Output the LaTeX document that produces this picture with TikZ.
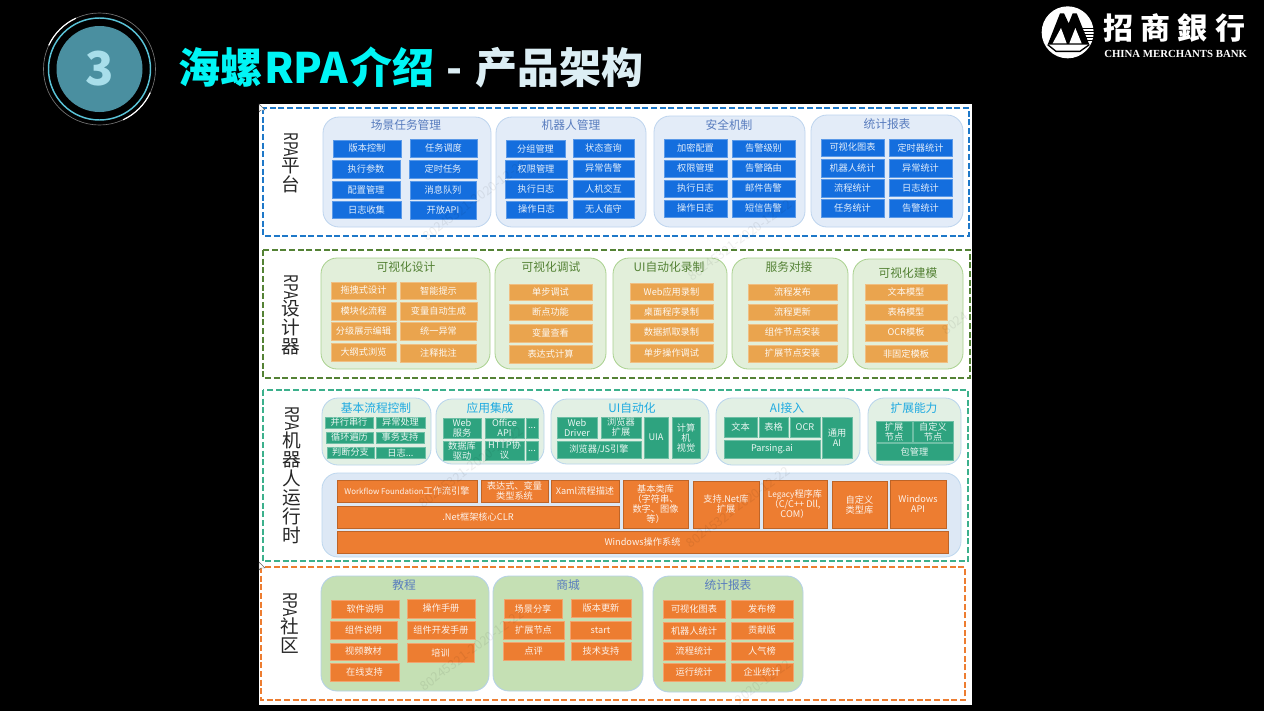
\documentclass[tikz,border=0pt]{standalone}
\usepackage{fontspec}
\usepackage{graphicx}
\setmainfont{Noto Sans CJK SC}
\newfontfamily\logotext{Liberation Serif}
\definecolor{titlecyan}{RGB}{0,245,245}
\definecolor{titlepale}{RGB}{220,238,244}
\definecolor{discteal}{RGB}{74,143,160}
\definecolor{ringcyan}{RGB}{90,195,215}
\definecolor{numpale}{RGB}{168,222,234}
\definecolor{frameblue}{RGB}{30,120,200}
\definecolor{framegreen}{RGB}{84,130,53}
\definecolor{frameteal}{RGB}{60,176,140}
\definecolor{frameorange}{RGB}{237,125,49}
\definecolor{headblue}{RGB}{88,124,190}
\definecolor{headsky}{RGB}{30,170,225}
\definecolor{cellblue}{RGB}{20,110,222}
\definecolor{cellamber}{RGB}{234,164,78}
\definecolor{cellteal}{RGB}{46,163,127}
\definecolor{cellorange}{RGB}{237,125,49}
\tikzset{
	wh/.style 2 args={minimum width=#1*0.75pt, minimum height=#2*0.75pt},
	framebox/.style={line width=1.2pt, dash pattern=on 4.5pt off 2pt},
	sidelabel/.style={align=center, inner sep=0pt, text=black!85,
		font=\fontsize{14}{14.2}\selectfont},
	panelbox/.style={rectangle, rounded corners=12pt, line width=0.6pt, inner sep=0pt},
	bluepanel/.style={panelbox, fill={rgb,255:red,227;green,236;blue,248}, draw={rgb,255:red,189;green,212;blue,238}},
	greenpanel/.style={panelbox, fill={rgb,255:red,226;green,239;blue,218}, draw={rgb,255:red,169;green,209;blue,142}},
	mintpanel/.style={panelbox, fill={rgb,255:red,226;green,240;blue,228}, draw={rgb,255:red,184;green,212;blue,236}},
	skypanel/.style={panelbox, fill={rgb,255:red,221;green,232;blue,245}, draw={rgb,255:red,189;green,215;blue,238}},
	leafpanel/.style={panelbox, fill={rgb,255:red,197;green,224;blue,180}, draw={rgb,255:red,180;green,208;blue,232}},
	paneltitle/.style={inner sep=0pt, font=\fontsize{8.8}{10}\selectfont},
	cellbox/.style={rectangle, inner sep=0pt, outer sep=0pt, align=center, line width=0.4pt,
		font=\fontsize{6.9}{7.5}\selectfont},
	bluecell/.style={cellbox, fill=cellblue, draw=cellblue!70!white, text=white!88!cellblue},
	ambercell/.style={cellbox, fill=cellamber, draw=cellamber!70!white, text=white!92!cellamber},
	tealcell/.style={cellbox, fill=cellteal, draw=cellteal!70!white, text=white!90!cellteal},
	orangecell/.style={cellbox, fill=cellorange, draw=cellorange!70!white, text=white!90!cellorange},
	corecell/.style={cellbox, fill=cellorange, draw=cellorange!80!black, text=white!90!cellorange},
	watermark/.style={rotate=37, text=black, opacity=0.07, inner sep=0pt,
		font=\fontsize{9.5}{10}\selectfont}
}
\newcommand{\rpatext}{\rotatebox[origin=c]{-90}{\scalebox{0.72}[1]{RPA}}}

\begin{document}
\begin{tikzpicture}[x=0.75pt, y=-0.75pt]
	\fill[black] (0,0) rectangle (1264,711);

	% badge
	\draw[black!55!white, line width=0.5pt] (99.5,69) circle (56);
	\draw[white, line width=0.9pt] (99.5,69) ++(65:56) arc[start angle=65, end angle=25, radius=56];
	\draw[white, line width=0.9pt] (99.5,69) ++(245:56) arc[start angle=245, end angle=205, radius=56];
	\draw[ringcyan, line width=1.1pt] (99.5,69) circle (51);
	\fill[discteal] (99.5,69) circle (43);
	\node[text=numpale, font=\fontsize{35}{36}\selectfont\bfseries] (badgenum) at (99.5,69) {3};
	\node[anchor=west, inner sep=0pt, text=titlepale, font=\fontsize{31.5}{34}\selectfont\bfseries] (pagetitle) at (178,67) {\textcolor{titlecyan}{海螺\hspace{1.5pt}RPA\hspace{1.5pt}介绍}\hspace{2.2pt} - \hspace{2.2pt}产品架构};

	% logo
	\begin{scope}[shift={(1036,4)}, x=0.25pt, y=-0.25pt]
		\fill[white] (95,85) circle (78);
		\fill[black] (35,122)--(72,28)--(84,28)--(98,58)--(110,28)--(122,28)--(160,122)--cycle;
		\fill[white] (50,118)--(75,72)--(92,118)--cycle;
		\fill[white] (100,118)--(118,72)--(137,118)--cycle;
		\foreach \sy in {72,81,90,99,108}
			\draw[black, line width=0.5pt] (138,\sy)--(176,\sy);
		\draw[black, line width=1pt] (35,122)--(60,142)--(132,142)--(160,122);
	\end{scope}
	\node[anchor=west, inner sep=0pt, text=white, font=\fontsize{22.5}{24}\selectfont\bfseries] (banknamecn) at (1103,28.5) {招\hspace{5.5pt}商\hspace{5.5pt}銀\hspace{5.5pt}行};
	\node[anchor=west, inner sep=0pt, text=white, font=\fontsize{8.1}{9}\logotext\bfseries] (banknameen) at (1104,54) {CHINA MERCHANTS BANK};

	\fill[white] (259,104) rectangle (972,705);

	% dashed frames
	\draw[framebox, frameblue] (263,108) rectangle (969,236);
	\draw[framebox, framegreen] (263,250) rectangle (970,378);
	\draw[framebox, frameteal] (263,390) rectangle (968,561);
	\draw[framebox, frameorange] (261,567) rectangle (965,700);

	\node[sidelabel] (sideplat) at (291,163) {\rpatext\\平\\台};
	\node[sidelabel] (sidedesign) at (291,315) {\rpatext\\设\\计\\器};
	\node[sidelabel] (siderobot) at (292,475) {\rpatext\\机\\器\\人\\运\\行\\时};
	\node[sidelabel] (sidecomm) at (290,623) {\rpatext\\社\\区};

	% RPA platform
	\node[bluepanel, wh={168}{110}] (pa) at (407,172) {};
	\node[bluepanel, wh={150}{110}] (pb) at (571,172) {};
	\node[bluepanel, wh={151}{111}] (pc) at (729.5,171.5) {};
	\node[bluepanel, wh={152}{112}] (pd) at (887,171) {};
	\node[paneltitle, text=headblue] (patitle) at (406,125) {场景任务管理};
	\node[paneltitle, text=headblue] (pbtitle) at (571,125) {机器人管理};
	\node[paneltitle, text=headblue] (pctitle) at (729,125) {安全机制};
	\node[paneltitle, text=headblue] (pdtitle) at (887,124) {统计报表};

	\node[bluecell, wh={68}{17}] (pa1) at (367,148.5) {版本控制};
	\node[bluecell, wh={67}{18}] (pa2) at (443.5,148) {任务调度};
	\node[bluecell, wh={68}{18}] (pa3) at (366,169) {执行参数};
	\node[bluecell, wh={68}{18}] (pa4) at (443,169) {定时任务};
	\node[bluecell, wh={68}{17}] (pa5) at (366,189.5) {配置管理};
	\node[bluecell, wh={66}{18}] (pa6) at (443,190) {消息队列};
	\node[bluecell, wh={69}{17}] (pa7) at (366.5,209.5) {日志收集};
	\node[bluecell, wh={66}{18}] (pa8) at (443,210) {开放API};

	\node[bluecell, wh={59}{17}] (pb1) at (535.5,148.5) {分组管理};
	\node[bluecell, wh={61}{18}] (pb2) at (603.5,148) {状态查询};
	\node[bluecell, wh={62}{18}] (pb3) at (536,169) {权限管理};
	\node[bluecell, wh={61}{17}] (pb4) at (603.5,168.5) {异常告警};
	\node[bluecell, wh={62}{18}] (pb5) at (536,189) {执行日志};
	\node[bluecell, wh={61}{17}] (pb6) at (603.5,188.5) {人机交互};
	\node[bluecell, wh={61}{17}] (pb7) at (536.5,209.5) {操作日志};
	\node[bluecell, wh={61}{18}] (pb8) at (603.5,209) {无人值守};

	\node[bluecell, wh={63}{18}] (pc1) at (695.5,148) {加密配置};
	\node[bluecell, wh={63}{17}] (pc2) at (763.5,148.5) {告警级别};
	\node[bluecell, wh={63}{17}] (pc3) at (695.5,168.5) {权限管理};
	\node[bluecell, wh={63}{17}] (pc4) at (763.5,168.5) {告警路由};
	\node[bluecell, wh={63}{17}] (pc5) at (695.5,188.5) {执行日志};
	\node[bluecell, wh={63}{17}] (pc6) at (763.5,188.5) {邮件告警};
	\node[bluecell, wh={63}{17}] (pc7) at (695.5,208.5) {操作日志};
	\node[bluecell, wh={63}{17}] (pc8) at (763.5,208.5) {短信告警};

	\node[bluecell, wh={63}{17}] (pd1) at (852.5,147.5) {可视化图表};
	\node[bluecell, wh={63}{17}] (pd2) at (920.5,147.5) {定时器统计};
	\node[bluecell, wh={63}{18}] (pd3) at (852.5,168) {机器人统计};
	\node[bluecell, wh={63}{18}] (pd4) at (920.5,168) {异常统计};
	\node[bluecell, wh={63}{18}] (pd5) at (852.5,188) {流程统计};
	\node[bluecell, wh={63}{17}] (pd6) at (920.5,187.5) {日志统计};
	\node[bluecell, wh={63}{18}] (pd7) at (852.5,208) {任务统计};
	\node[bluecell, wh={63}{18}] (pd8) at (920.5,208) {告警统计};

	% RPA designer
	\node[greenpanel, wh={169}{111}] (da) at (405.5,313.5) {};
	\node[greenpanel, wh={111}{111}] (db) at (550.5,313.5) {};
	\node[greenpanel, wh={114}{111}] (dc) at (670,313.5) {};
	\node[greenpanel, wh={116}{111}] (dd) at (790,313.5) {};
	\node[greenpanel, wh={110}{110}] (de) at (908,314) {};
	\node[paneltitle, text=framegreen] (datitle) at (406,267) {可视化设计};
	\node[paneltitle, text=framegreen] (dbtitle) at (551,267) {可视化调试};
	\node[paneltitle, text=framegreen] (dctitle) at (669,267) {UI自动化录制};
	\node[paneltitle, text=framegreen] (ddtitle) at (789,267) {服务对接};
	\node[paneltitle, text=framegreen] (detitle) at (908,273) {可视化建模};

	\node[ambercell, wh={65}{17}] (da1) at (363.5,290.5) {拖拽式设计};
	\node[ambercell, wh={76}{17}] (da2) at (438.5,290.5) {智能提示};
	\node[ambercell, wh={65}{18}] (da3) at (363.5,311) {模块化流程};
	\node[ambercell, wh={77}{18}] (da4) at (438.5,311) {变量自动生成};
	\node[ambercell, wh={65}{18}] (da5) at (363.5,331) {分级展示编辑};
	\node[ambercell, wh={76}{18}] (da6) at (438.5,331) {统一异常};
	\node[ambercell, wh={65}{18}] (da7) at (363.5,352) {大纲式浏览};
	\node[ambercell, wh={76}{18}] (da8) at (438.5,353) {注释批注};

	\node[ambercell, wh={83}{16}] (db1) at (550.5,292) {单步调试};
	\node[ambercell, wh={83}{16}] (db2) at (550.5,312) {断点功能};
	\node[ambercell, wh={83}{18}] (db3) at (550.5,333) {变量查看};
	\node[ambercell, wh={83}{18}] (db4) at (550.5,354) {表达式计算};

	\node[ambercell, wh={83}{17}] (dc1) at (671.5,291.5) {Web应用录制};
	\node[ambercell, wh={83}{15}] (dc2) at (671.5,311.5) {桌面程序录制};
	\node[ambercell, wh={83}{18}] (dc3) at (671.5,332) {数据抓取录制};
	\node[ambercell, wh={83}{18}] (dc4) at (671.5,353) {单步操作调试};

	\node[ambercell, wh={89}{16}] (dd1) at (792.5,292) {流程发布};
	\node[ambercell, wh={89}{16}] (dd2) at (792.5,312) {流程更新};
	\node[ambercell, wh={89}{17}] (dd3) at (792.5,332.5) {组件节点安装};
	\node[ambercell, wh={89}{17}] (dd4) at (792.5,353.5) {扩展节点安装};

	\node[ambercell, wh={82}{16}] (de1) at (906,292) {文本模型};
	\node[ambercell, wh={82}{16}] (de2) at (906,312) {表格模型};
	\node[ambercell, wh={82}{17}] (de3) at (906,332.5) {OCR模板};
	\node[ambercell, wh={82}{17}] (de4) at (906,353.5) {非固定模板};

	% RPA robot runtime
	\node[mintpanel, wh={109}{67}] (ra) at (376.5,431.5) {};
	\node[mintpanel, wh={108}{65}] (rb) at (490,431.5) {};
	\node[mintpanel, wh={158}{65}] (rc) at (630,431.5) {};
	\node[mintpanel, wh={144}{67}] (rd) at (788,431.5) {};
	\node[mintpanel, wh={93}{67}] (re) at (914.5,431.5) {};
	\node[skypanel, wh={639}{84}] (rcore) at (641.5,515) {};
	\node[paneltitle, text=headsky] (ratitle) at (376,408) {基本流程控制};
	\node[paneltitle, text=headsky] (rbtitle) at (490,408) {应用集成};
	\node[paneltitle, text=headsky] (rctitle) at (632,408) {UI自动化};
	\node[paneltitle, text=headsky] (rdtitle) at (787,408) {AI接入};
	\node[paneltitle, text=headsky] (retitle) at (914,408) {扩展能力};

	\node[tealcell, wh={48}{11}] (ra1) at (349,422.5) {并行串行};
	\node[tealcell, wh={49}{11}] (ra2) at (400.5,422.5) {异常处理};
	\node[tealcell, wh={47}{11}] (ra3) at (349.5,437.5) {循环遍历};
	\node[tealcell, wh={48}{11}] (ra4) at (400,437.5) {事务支持};
	\node[tealcell, wh={47}{11}] (ra5) at (350.5,452.5) {判断分支};
	\node[tealcell, wh={49}{11}] (ra6) at (400.5,452.5) {日志...};

	\node[tealcell, wh={38}{20}] (rb1) at (462,428) {Web\\服务};
	\node[tealcell, wh={39}{20}] (rb2) at (504.5,428) {Office\\API};
	\node[tealcell, wh={12}{20}] (rb3) at (532,428) {...};
	\node[tealcell, wh={38}{19}] (rb4) at (462,450.5) {数据库\\驱动};
	\node[tealcell, wh={39}{19}] (rb5) at (504.5,450.5) {HTTP协\\议};
	\node[tealcell, wh={12}{19}] (rb6) at (532,450.5) {...};

	\node[tealcell, wh={40}{21}] (rc1) at (577,427.5) {Web\\Driver};
	\node[tealcell, wh={40}{21}] (rc2) at (621,427.5) {浏览器\\扩展};
	\node[tealcell, wh={84}{17}] (rc3) at (599,449.5) {浏览器/JS引擎};
	\node[tealcell, wh={24}{41}] (rc4) at (656,437.5) {UIA};
	\node[tealcell, wh={28}{41}] (rc5) at (686,437.5) {计算\\机\\视觉};

	\node[tealcell, wh={33}{20}] (rd1) at (740.5,427) {文本};
	\node[tealcell, wh={29}{20}] (rd2) at (773.5,427) {表格};
	\node[tealcell, wh={30}{20}] (rd3) at (805,427) {OCR};
	\node[tealcell, wh={96}{18}] (rd4) at (772,449) {Parsing.ai};
	\node[tealcell, wh={30}{41}] (rd5) at (837,437.5) {通用\\AI};

	\node[tealcell, wh={36}{21}] (re1) at (894,431.5) {扩展\\节点};
	\node[tealcell, wh={40}{21}] (re2) at (933,431.5) {自定义\\节点};
	\node[tealcell, wh={77}{17}] (re3) at (914.5,451.5) {包管理};

	\node[corecell, wh={140}{22}] (core1) at (407,491) {{\fontsize{5.9}{7}\selectfont Workflow Foundation}工作流引擎};
	\node[corecell, wh={67}{22}] (core2) at (514.5,491) {表达式、变量\\类型系统};
	\node[corecell, wh={68}{22}] (core3) at (585,491) {Xaml流程描述};
	\node[corecell, wh={282}{22}] (core4) at (478,517) {.Net框架核心CLR};
	\node[corecell, wh={65}{48}] (core5) at (655.5,504) {基本类库\\（字符串、\\数字、图像\\等）};
	\node[corecell, wh={66}{47}] (core6) at (726,504.5) {支持.Net库\\扩展};
	\node[corecell, wh={64}{48}] (core7) at (795,504) {{\fontsize{6.2}{7}\selectfont Legacy}程序库\\（C/C++ Dll,\\COM）};
	\node[corecell, wh={55}{47}] (core8) at (859.5,504.5) {自定义\\类型库};
	\node[corecell, wh={56}{48}] (core9) at (918,504) {Windows\\API};
	\node[corecell, wh={611}{22}] (core10) at (642.5,542) {Windows操作系统};

	% RPA community
	\node[leafpanel, wh={168}{115}] (ca) at (405,633.5) {};
	\node[leafpanel, wh={150}{115}] (cb) at (568,633.5) {};
	\node[leafpanel, wh={150}{116}] (cc) at (728,634) {};
	\node[paneltitle, text=headblue] (catitle) at (404,585) {教程};
	\node[paneltitle, text=headblue] (cbtitle) at (568,585) {商城};
	\node[paneltitle, text=headblue] (cctitle) at (728,585) {统计报表};

	\node[orangecell, wh={68}{18}] (ca1) at (365,609) {软件说明};
	\node[orangecell, wh={68}{19}] (ca2) at (441,608.5) {操作手册};
	\node[orangecell, wh={67}{18}] (ca3) at (363.5,630) {组件说明};
	\node[orangecell, wh={68}{18}] (ca4) at (441,630) {组件开发手册};
	\node[orangecell, wh={67}{17}] (ca5) at (363.5,651.5) {视频教材};
	\node[orangecell, wh={67}{19}] (ca6) at (440.5,652.5) {培训};
	\node[orangecell, wh={69}{18}] (ca7) at (364.5,672) {在线支持};

	\node[orangecell, wh={58}{19}] (cb1) at (533,608.5) {场景分享};
	\node[orangecell, wh={60}{18}] (cb2) at (601,608) {版本更新};
	\node[orangecell, wh={61}{18}] (cb3) at (533.5,630) {扩展节点};
	\node[orangecell, wh={61}{18}] (cb4) at (600.5,630) {start};
	\node[orangecell, wh={61}{18}] (cb5) at (533.5,651) {点评};
	\node[orangecell, wh={60}{18}] (cb6) at (601,651) {技术支持};

	\node[orangecell, wh={62}{18}] (cc1) at (694,609) {可视化图表};
	\node[orangecell, wh={62}{18}] (cc2) at (762,609) {发布榜};
	\node[orangecell, wh={62}{17}] (cc3) at (694,630.5) {机器人统计};
	\node[orangecell, wh={62}{17}] (cc4) at (762,630.5) {贡献版};
	\node[orangecell, wh={62}{18}] (cc5) at (694,651) {流程统计};
	\node[orangecell, wh={62}{18}] (cc6) at (762,651) {人气榜};
	\node[orangecell, wh={62}{18}] (cc7) at (694,672) {运行统计};
	\node[orangecell, wh={62}{18}] (cc8) at (762,672) {企业统计};

	% faint marks across the sheet
	\foreach \wx/\wy/\wtxt [count=\wi] in {475/200/80245321-2020-12-22, 740/240/80245321-2020-12-22, 955/323/8024, 471/467/80245321-2020-12-22, 738/507/80245321-2020-12-22, 472/650/80245321-2020-12-22, 763/682/2020-12-22}
		\node[watermark] (mark\wi) at (\wx,\wy) {\wtxt};

	\draw[black!60, fill=white, line width=0.3pt] (259,104)--(259,112)--(261,110)--(265,110)--cycle;
	\draw[black!60, fill=white, line width=0.3pt] (259,562)--(259,570)--(261,568)--(265,568)--cycle;
\end{tikzpicture}
\end{document}
